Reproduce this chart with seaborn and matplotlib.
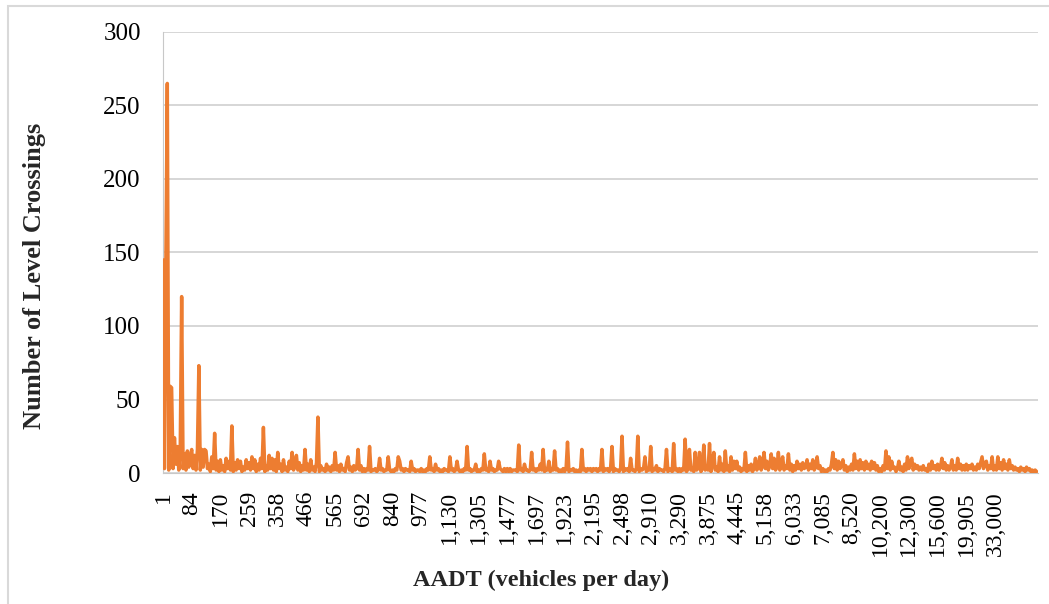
import numpy as np
import pandas as pd
import matplotlib
matplotlib.use("Agg")
import matplotlib.pyplot as plt
import seaborn as sns
from matplotlib.patches import Rectangle

# AADT tick labels (every 20th category is labelled on the axis)
tick_labels = ["1", "84", "170", "259", "358", "466", "565", "692", "840", "977",
               "1,130", "1,305", "1,477", "1,697", "1,923", "2,195", "2,498", "2,910",
               "3,290", "3,875", "4,445", "5,158", "6,033", "7,085", "8,520",
               "10,200", "12,300", "15,600", "19,905", "33,000"]

# Number of level crossings per AADT category (estimated from the chart)
crossings = [
    145, 3, 142, 265, 2, 59, 58, 3, 24, 6, 18, 2, 14, 120, 3, 13, 2, 15, 4, 11,
    16, 3, 12, 2, 16, 73, 2, 16, 4, 16, 15, 3, 6, 1, 11, 3, 27, 2, 8, 1,
    9, 2, 5, 1, 10, 3, 8, 2, 32, 1, 7, 2, 9, 3, 8, 1, 4, 2, 9, 3,
    7, 2, 11, 3, 9, 1, 6, 2, 10, 3, 31, 1, 5, 2, 12, 3, 10, 2, 9, 1,
    14, 3, 6, 1, 9, 2, 4, 1, 8, 3, 14, 2, 5, 12, 2, 7, 1, 5, 2, 16,
    2, 6, 1, 9, 2, 4, 1, 7, 38, 1, 5, 2, 3, 1, 6, 2, 4, 1, 5, 2,
    14, 2, 5, 1, 6, 2, 3, 1, 7, 11, 2, 4, 1, 5, 2, 3, 16, 2, 5, 1,
    3, 1, 3, 2, 18, 1, 2, 2, 3, 1, 2, 10, 2, 3, 1, 2, 2, 11, 2, 1,
    2, 1, 3, 2, 11, 8, 2, 3, 1, 3, 2, 2, 1, 8, 2, 3, 1, 2, 2, 1,
    3, 1, 2, 1, 3, 2, 11, 2, 3, 1, 6, 2, 3, 1, 2, 1, 3, 2, 2, 1,
    11, 2, 3, 1, 2, 8, 2, 1, 2, 1, 3, 2, 18, 2, 3, 1, 2, 2, 6, 1,
    2, 1, 3, 2, 13, 2, 3, 1, 8, 2, 3, 1, 2, 2, 8, 3, 2, 1, 3, 1,
    3, 1, 3, 1, 2, 2, 2, 1, 19, 2, 3, 1, 6, 2, 2, 1, 2, 14, 2, 3,
    1, 3, 2, 6, 2, 16, 1, 3, 2, 8, 1, 3, 2, 15, 2, 3, 1, 2, 1, 3,
    1, 3, 21, 1, 2, 2, 3, 1, 2, 1, 2, 1, 16, 2, 3, 1, 3, 2, 3, 1,
    3, 2, 3, 1, 3, 2, 16, 1, 3, 2, 3, 1, 3, 18, 1, 3, 2, 2, 1, 3,
    25, 1, 3, 2, 3, 1, 10, 2, 2, 1, 3, 25, 1, 3, 2, 3, 11, 1, 3, 2,
    18, 1, 3, 2, 5, 1, 3, 2, 2, 1, 3, 16, 1, 3, 2, 1, 20, 2, 3, 1,
    3, 1, 3, 2, 23, 1, 3, 16, 2, 3, 1, 14, 2, 3, 14, 1, 3, 19, 2, 3,
    2, 20, 1, 6, 14, 2, 4, 1, 11, 2, 6, 1, 15, 2, 5, 1, 11, 2, 8, 3,
    8, 2, 4, 1, 3, 2, 14, 1, 5, 2, 6, 1, 3, 10, 2, 4, 11, 2, 5, 14,
    3, 8, 2, 5, 13, 3, 10, 2, 4, 14, 2, 7, 11, 2, 5, 3, 13, 2, 6, 1,
    5, 2, 8, 3, 6, 2, 7, 3, 4, 9, 2, 6, 3, 9, 2, 4, 11, 3, 5, 1,
    3, 1, 2, 1, 3, 2, 6, 14, 3, 9, 2, 8, 3, 5, 9, 2, 5, 1, 4, 2,
    6, 2, 13, 3, 8, 2, 9, 3, 7, 2, 8, 3, 6, 2, 8, 3, 7, 2, 5, 1,
    3, 1, 5, 2, 15, 3, 11, 2, 8, 3, 4, 1, 3, 8, 2, 4, 1, 6, 2, 11,
    3, 8, 10, 2, 6, 3, 5, 2, 4, 2, 5, 2, 3, 1, 6, 2, 8, 3, 5, 2,
    6, 2, 4, 10, 3, 7, 2, 5, 2, 4, 9, 2, 5, 2, 10, 3, 6, 2, 5, 2,
    6, 2, 5, 3, 6, 2, 4, 2, 6, 3, 7, 11, 3, 7, 8, 2, 5, 3, 11, 2,
    5, 2, 11, 3, 7, 2, 9, 3, 6, 2, 9, 3, 5, 2, 4, 2, 3, 1, 4, 2,
    3, 1, 4, 2, 3, 1, 2, 1, 2, 1,
]
TICK_STEP = 20

sns.set_style("white")
plt.rcParams['font.family'] = ['Liberation Serif', 'DejaVu Serif']

W, H = 1049, 604
fig = plt.figure(figsize=(W / 100, H / 100), dpi=100)

# outer chart border
fig.patches.append(Rectangle((8 / W, -0.2), 1.5, 1.2 - 6 / H,
                             transform=fig.transFigure, fill=False,
                             edgecolor="#d9d9d9", linewidth=1.5))

ax = fig.add_axes([163 / W, 1 - 473 / H, (1038 - 163) / W, (473 - 32) / H])

df = pd.DataFrame({"pos": np.arange(len(crossings)), "count": crossings})
sns.lineplot(data=df, x="pos", y="count", ax=ax, color="#ED7D31",
             linewidth=2.5, zorder=3)

ax.set_xlim(0, len(crossings))
ax.set_ylim(0, 300)
ax.set_yticks(range(0, 301, 50))
ax.set_xticks(np.arange(len(tick_labels)) * TICK_STEP)
ax.set_xticklabels(tick_labels, rotation=90, ha="center", va="top")
ax.tick_params(axis="y", labelsize=18, length=0, pad=16, colors="black")
ax.tick_params(axis="x", labelsize=17, length=0, pad=13, colors="black")
ax.yaxis.grid(True, color="#cfcfcf", linewidth=1.2)
ax.set_axisbelow(True)
for s in ["top", "right"]:
    ax.spines[s].set_visible(False)
ax.spines["left"].set_color("#c8c8c8")
ax.spines["bottom"].set_color("#c8c8c8")
ax.set_xlabel("")
ax.set_ylabel("")

fig.text(541 / W, 1 - 580 / H, "AADT (vehicles per day)", ha="center", va="center",
         fontsize=17.5, fontweight="bold")
fig.text(35 / W, 1 - 276 / H, "Number of Level Crossings", ha="center", va="center",
         rotation=90, fontsize=19, fontweight="bold")

fig.savefig("out.png", dpi=100)
